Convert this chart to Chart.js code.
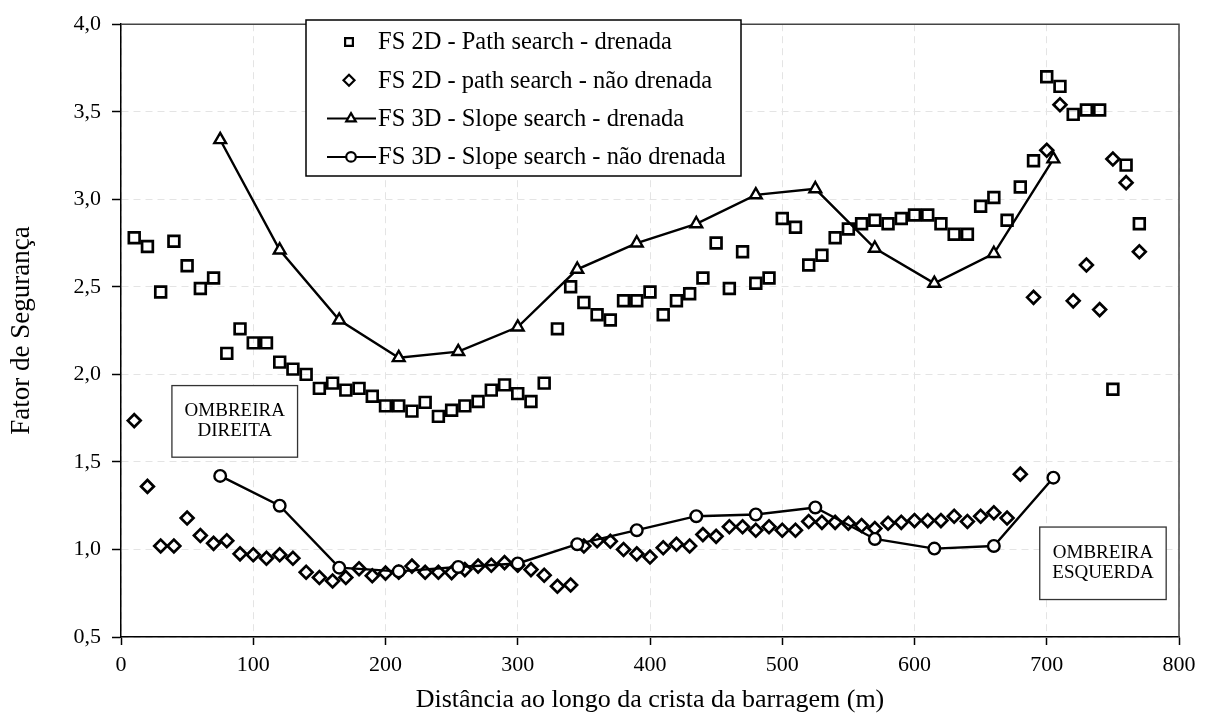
<!DOCTYPE html>
<html>
<head>
<meta charset="utf-8">
<script src="https://cdn.jsdelivr.net/npm/chart.js@4.4.0/dist/chart.umd.min.js"></script>
<style>
  html, body { margin: 0; padding: 0; background: #fff; }
</style>
</head>
<body>
<canvas id="chart" width="1206" height="716"></canvas>
<script>
// distância ao longo da crista (m) - análises 2D
const dist2d = [10, 20, 30, 40, 50, 60, 70, 80, 90, 100, 110, 120, 130, 140, 150, 160, 170, 180, 190, 200,
    210, 220, 230, 240, 250, 260, 270, 280, 290, 300, 310, 320, 330, 340, 350, 360, 370, 380, 390, 400,
    410, 420, 430, 440, 450, 460, 470, 480, 490, 500, 510, 520, 530, 540, 550, 560, 570, 580, 590, 600,
    610, 620, 630, 640, 650, 660, 670, 680, 690, 700, 710, 720, 730, 740, 750, 760, 770];

const fs2dDrenada = [2.78, 2.73, 2.47, 2.76, 2.62, 2.49, 2.55, 2.12, 2.26, 2.18, 2.18, 2.07, 2.03, 2.00, 1.92, 1.95, 1.91, 1.92, 1.875, 1.82,
    1.82, 1.79, 1.84, 1.76, 1.795, 1.82, 1.845, 1.91, 1.94, 1.89, 1.845, 1.95, 2.26, 2.50, 2.41, 2.34, 2.31, 2.42, 2.42, 2.47,
    2.34, 2.42, 2.46, 2.55, 2.75, 2.49, 2.70, 2.52, 2.55, 2.89, 2.84, 2.625, 2.68, 2.78, 2.83, 2.86, 2.88, 2.86, 2.89, 2.91,
    2.91, 2.86, 2.80, 2.80, 2.96, 3.01, 2.88, 3.07, 3.22, 3.70, 3.645, 3.485, 3.51, 3.51, 1.915, 3.195, 2.86];

const fs2dNaoDrenada = [1.736, 1.36, 1.02, 1.02, 1.18, 1.08, 1.035, 1.05, 0.975, 0.97, 0.95, 0.97, 0.95, 0.87, 0.84, 0.82, 0.84, 0.89, 0.85, 0.865,
    0.87, 0.905, 0.87, 0.87, 0.868, 0.885, 0.905, 0.91, 0.925, 0.91, 0.885, 0.853, 0.79, 0.797, 1.02, 1.05, 1.047, 1.00, 0.975, 0.957,
    1.01, 1.03, 1.02, 1.085, 1.075, 1.13, 1.13, 1.11, 1.13, 1.11, 1.11, 1.16, 1.155, 1.155, 1.15, 1.137, 1.12, 1.15, 1.155, 1.165,
    1.165, 1.165, 1.19, 1.16, 1.19, 1.21, 1.18, 1.43, 2.44, 3.28, 3.54, 2.42, 2.625, 2.37, 3.23, 3.095, 2.70];

// análises 3D
const dist3d = [75, 120, 165, 210, 255, 300, 345, 390, 435, 480, 525, 570, 615, 660, 705];
const fs3dDrenada = [3.34, 2.71, 2.31, 2.095, 2.13, 2.27, 2.60, 2.75, 2.86, 3.025, 3.06, 2.72, 2.52, 2.69, 3.23];
const fs3dNaoDrenada = [1.42, 1.25, 0.896, 0.875, 0.90, 0.92, 1.03, 1.11, 1.19, 1.20, 1.24, 1.06, 1.005, 1.02, 1.41];

const xTitle = 'Distância ao longo da crista da barragem (m)';
const yTitle = 'Fator de Segurança';

const FONT = "'Liberation Serif', 'Times New Roman', serif";

function pts(xs, ys) {
    return xs.map((x, i) => ({ x, y: ys[i] }));
}

// boxes in data units: [x0, x1, y0, y1]
const notes = [
    { lines: ['OMBREIRA', 'DIREITA'], box: [38.5, 133.5, 1.527, 1.936] },
    { lines: ['OMBREIRA', 'ESQUERDA'], box: [694.7, 790.3, 0.714, 1.128] },
];

const extras = {
    id: 'extras',
    afterDraw(chart) {
        const { ctx, chartArea: a, scales } = chart;
        ctx.save();
        // top / right frame
        ctx.strokeStyle = '#444';
        ctx.lineWidth = 1.5;
        ctx.beginPath();
        ctx.moveTo(a.left, a.top);
        ctx.lineTo(a.right, a.top);
        ctx.lineTo(a.right, a.bottom);
        ctx.stroke();

        // note boxes
        ctx.font = `19px ${FONT}`;
        ctx.textAlign = 'center';
        ctx.textBaseline = 'middle';
        notes.forEach(n => {
            const x0 = scales.x.getPixelForValue(n.box[0]);
            const x1 = scales.x.getPixelForValue(n.box[1]);
            const y0 = scales.y.getPixelForValue(n.box[3]);
            const y1 = scales.y.getPixelForValue(n.box[2]);
            ctx.fillStyle = '#fff';
            ctx.fillRect(x0, y0, x1 - x0, y1 - y0);
            ctx.strokeStyle = '#333';
            ctx.lineWidth = 1.3;
            ctx.strokeRect(x0, y0, x1 - x0, y1 - y0);
            ctx.fillStyle = '#000';
            const cy = (y0 + y1) / 2;
            ctx.fillText(n.lines[0], (x0 + x1) / 2, cy - 10);
            ctx.fillText(n.lines[1], (x0 + x1) / 2, cy + 10);
        });

        // legend
        const lx = 306, ly = 20, lw = 435, lh = 156;
        ctx.fillStyle = '#fff';
        ctx.fillRect(lx, ly, lw, lh);
        ctx.strokeStyle = '#000';
        ctx.lineWidth = 1.5;
        ctx.strokeRect(lx, ly, lw, lh);
        ctx.font = `24.5px ${FONT}`;
        ctx.textAlign = 'left';
        chart.data.datasets.forEach((ds, i) => {
            const y = ly + 22 + i * 38.3;
            if (ds.showLine) {
                ctx.strokeStyle = '#000';
                ctx.lineWidth = 2;
                ctx.beginPath();
                ctx.moveTo(327, y);
                ctx.lineTo(376, y);
                ctx.stroke();
            }
            ctx.fillStyle = '#fff';
            ctx.strokeStyle = '#000';
            ctx.lineWidth = 2.2;
            Chart.helpers.drawPoint(ctx, {
                pointStyle: ds.pointStyle,
                radius: ds.legendRadius,
                borderWidth: 2.2,
                rotation: 0,
            }, ds.showLine ? 351 : 349, y);
            ctx.fillStyle = '#000';
            ctx.fillText(ds.label, 378, y + 1);
        });
        ctx.restore();
    },
};

const ctx = document.getElementById('chart').getContext('2d');
new Chart(ctx, {
    type: 'scatter',
    data: {
        datasets: [
            {
                label: 'FS 2D - Path search - drenada',
                data: pts(dist2d, fs2dDrenada),
                pointStyle: 'rect',
                pointRadius: 7.6,
                borderWidth: 2.7,
                borderColor: '#000',
                backgroundColor: 'rgba(255,255,255,0)',
                legendRadius: 5.5,
                order: 4,
            },
            {
                label: 'FS 2D - path search - não drenada',
                data: pts(dist2d, fs2dNaoDrenada),
                pointStyle: 'rectRot',
                pointRadius: 6.4,
                borderWidth: 2.7,
                borderColor: '#000',
                backgroundColor: 'rgba(255,255,255,0)',
                legendRadius: 5.5,
                order: 3,
            },
            {
                label: 'FS 3D - Slope search - drenada',
                data: pts(dist3d, fs3dDrenada),
                showLine: true,
                pointStyle: 'triangle',
                pointRadius: 6.8,
                borderWidth: 2.4,
                borderColor: '#000',
                backgroundColor: '#fff',
                legendRadius: 5.5,
                order: 2,
            },
            {
                label: 'FS 3D - Slope search - não drenada',
                data: pts(dist3d, fs3dNaoDrenada),
                showLine: true,
                pointStyle: 'circle',
                pointRadius: 5.8,
                borderWidth: 2.4,
                borderColor: '#000',
                backgroundColor: '#fff',
                legendRadius: 4.8,
                order: 1,
            },
        ],
    },
    options: {
        responsive: false,
        devicePixelRatio: 1,
        animation: false,
        layout: { padding: { left: 0, right: 27, top: 17, bottom: 0 } },
        plugins: {
            legend: { display: false },
            tooltip: { enabled: false },
        },
        scales: {
            x: {
                type: 'linear',
                min: 0,
                max: 800,
                afterFit(scale) { scale.height = 79; },
                ticks: {
                    stepSize: 100,
                    color: '#000',
                    padding: 7,
                    font: { family: FONT, size: 22 },
                },
                grid: {
                    color: '#e4e4e4',
                    lineWidth: 1,
                    tickColor: '#000',
                    tickLength: 8,
                    tickWidth: 1.5,
                    tickBorderDash: [],
                },
                border: { color: '#000', width: 1.5, dash: [7, 5] },
                title: {
                    display: true,
                    text: xTitle,
                    color: '#000',
                    font: { family: FONT, size: 26 },
                    padding: { top: 0, bottom: 0 },
                },
            },
            y: {
                type: 'linear',
                min: 0.5,
                max: 4,
                afterFit(scale) { scale.width = 121; },
                ticks: {
                    stepSize: 0.5,
                    color: '#000',
                    padding: 11,
                    font: { family: FONT, size: 22 },
                    callback: v => v.toFixed(1).replace('.', ','),
                },
                grid: {
                    color: '#e4e4e4',
                    lineWidth: 1,
                    tickColor: '#000',
                    tickLength: 9,
                    tickWidth: 1.5,
                    tickBorderDash: [],
                },
                border: { color: '#000', width: 1.5, dash: [7, 5] },
                title: {
                    display: true,
                    text: yTitle,
                    color: '#000',
                    font: { family: FONT, size: 27 },
                    padding: { top: 6, bottom: 0 },
                },
            },
        },
    },
    plugins: [extras],
});
</script>
</body>
</html>
